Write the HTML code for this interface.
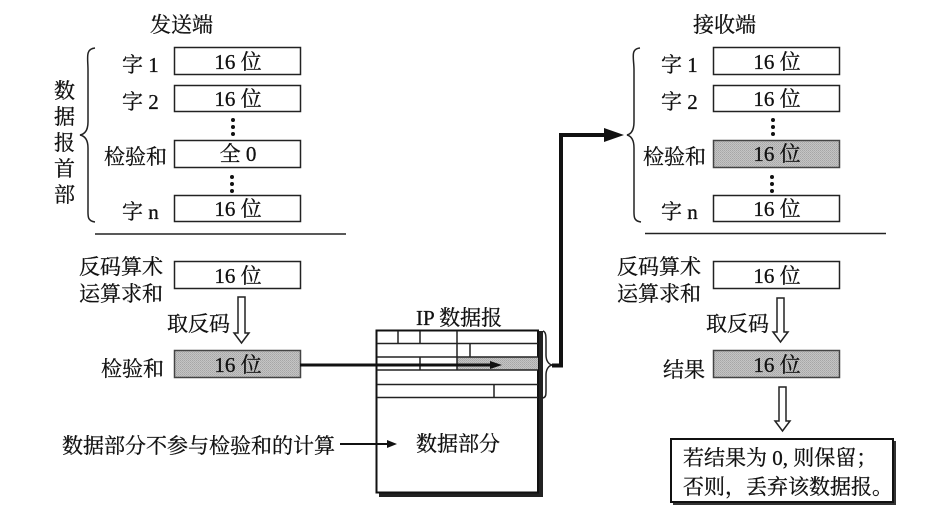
<!DOCTYPE html>
<html>
<head>
<meta charset="utf-8">
<style>
html,body{margin:0;padding:0;background:#fff;width:944px;height:519px;overflow:hidden}
svg{display:block}
text{font-family:"Liberation Serif","Noto Serif CJK SC",serif;font-size:21px;fill:#111;stroke:#111;stroke-width:.3}
.b{fill:#fff;stroke:#222;stroke-width:1.5}
.g{fill:url(#d);stroke:#444;stroke-width:1.5}
.l{stroke:#222;stroke-width:1.5;fill:none}
.m{text-anchor:middle}
</style>
</head>
<body>
<svg width="944" height="519" viewBox="0 0 944 519" xmlns="http://www.w3.org/2000/svg">
<defs>
<pattern id="d" width="2" height="2" patternUnits="userSpaceOnUse">
<rect width="2" height="2" fill="#c4c4c4"/>
<rect width="1" height="1" fill="#a6a6a6"/>
<rect x="1" y="1" width="1" height="1" fill="#b0b0b0"/>
</pattern>
</defs>

<!-- Sender -->
<text x="150" y="32">发送端</text>
<path class="l" d="M95 48 C85 49 88 58 88 70 L88 122 C88 130 85 134 80 135 C85 136 88 140 88 148 L88 208 C88 216 87 221 95 222"/>
<text x="54" y="98">数</text><text x="54" y="124">据</text><text x="54" y="150">报</text><text x="54" y="176">首</text><text x="54" y="202">部</text>
<text x="122" y="72">字 1</text><text x="122" y="109">字 2</text><text x="104" y="164">检验和</text><text x="122" y="219">字 n</text>
<rect class="b" x="174.500" y="47.500" width="126" height="27"/>
<rect class="b" x="174.500" y="85.500" width="126" height="26"/>
<rect class="b" x="174.500" y="140.500" width="126" height="27"/>
<rect class="b" x="174.500" y="195.500" width="126" height="26"/>
<text class="m" x="238" y="69">16 位</text><text class="m" x="238" y="106">16 位</text><text class="m" x="238" y="161">全 0</text><text class="m" x="238" y="216">16 位</text>
<g fill="#111"><circle cx="233" cy="120" r="2"/><circle cx="233" cy="127" r="2"/><circle cx="233" cy="134" r="2"/><circle cx="232" cy="177" r="2"/><circle cx="232" cy="184" r="2"/><circle cx="232" cy="191" r="2"/></g>
<path class="l" d="M95 234H346"/>
<text x="79" y="274">反码算术</text><text x="79" y="301">运算求和</text>
<rect class="b" x="174.500" y="261.500" width="126" height="27"/>
<text class="m" x="238" y="283">16 位</text>
<text x="167" y="331">取反码</text>
<path class="l" d="M238 297H245V333H249L241.500 343L234 333H238Z"/>
<text x="101" y="376">检验和</text>
<rect class="g" x="174.500" y="350.500" width="126" height="27"/>
<text class="m" x="238" y="372">16 位</text>
<text x="62" y="453">数据部分不参与检验和的计算</text>

<!-- IP datagram -->
<text x="416" y="325">IP 数据报</text>
<rect x="379" y="331" width="164" height="166" fill="#222"/>
<rect x="376.500" y="330.500" width="161.500" height="162" fill="#fff" stroke="#111" stroke-width="2"/>
<rect x="457" y="357" width="81" height="13" fill="url(#d)"/>
<path class="l" d="M377 343.500H538M377 357H538M377 370H538M377 384.500H538M377 397.500H538M398 331V343M420 331V343M457 331V370M470 343V357M420 357V370M494 384V397"/>
<path d="M300 365H495" stroke="#111" stroke-width="3"/>
<path d="M490 361L502 365L490 369Z" fill="#111"/>
<path d="M340 444H390" stroke="#111" stroke-width="2"/>
<path d="M387 440L397 444L387 448Z" fill="#111"/>
<text class="m" x="458" y="451">数据部分</text>
<path class="l" d="M543 331C546 332 546 336 546 342V355C546 361 549 365 553 365C549 365 546 369 546 375V390C546 395 546 397 543 398"/>
<path d="M552 365.500H561V135H606" fill="none" stroke="#111" stroke-width="4"/>
<path d="M604 128L624 135L604 142Z" fill="#111"/>

<!-- Receiver -->
<text x="693" y="32">接收端</text>
<path class="l" d="M640 48C630 49 634 58 634 70V122C634 130 631 134 627 135C631 136 634 140 634 148V208C634 216 633 221 641 222"/>
<text x="661" y="72">字 1</text><text x="661" y="109">字 2</text><text x="643" y="164">检验和</text><text x="661" y="219">字 n</text>
<rect class="b" x="713.500" y="47.500" width="126" height="27"/>
<rect class="b" x="713.500" y="85.500" width="126" height="26"/>
<rect class="g" x="713.500" y="140.500" width="126" height="27"/>
<rect class="b" x="713.500" y="195.500" width="126" height="26"/>
<text class="m" x="777" y="69">16 位</text><text class="m" x="777" y="106">16 位</text><text class="m" x="777" y="161">16 位</text><text class="m" x="777" y="216">16 位</text>
<g fill="#111"><circle cx="773" cy="120" r="2"/><circle cx="773" cy="127" r="2"/><circle cx="773" cy="134" r="2"/><circle cx="772" cy="177" r="2"/><circle cx="772" cy="184" r="2"/><circle cx="772" cy="191" r="2"/></g>
<path class="l" d="M645 233.500H886"/>
<text x="617" y="274">反码算术</text><text x="617" y="301">运算求和</text>
<rect class="b" x="713.500" y="261.500" width="126" height="27"/>
<text class="m" x="777" y="283">16 位</text>
<text x="706" y="331">取反码</text>
<path class="l" d="M777 298H784V332H788L780.500 342L773 332H777Z"/>
<text x="663" y="377">结果</text>
<rect class="g" x="713.500" y="350.500" width="126" height="27"/>
<text class="m" x="777" y="372">16 位</text>
<path class="l" d="M779 387H786V421H790L782.500 431L775 421H779Z"/>
<rect x="673" y="441" width="223" height="64" fill="#333"/>
<rect x="671" y="439" width="222" height="63" fill="#fff" stroke="#111" stroke-width="2"/>
<text x="683" y="465">若结果为 0, 则保留；</text>
<text x="683" y="494">否则，丢弃该数据报。</text>
</svg>
</body>
</html>
